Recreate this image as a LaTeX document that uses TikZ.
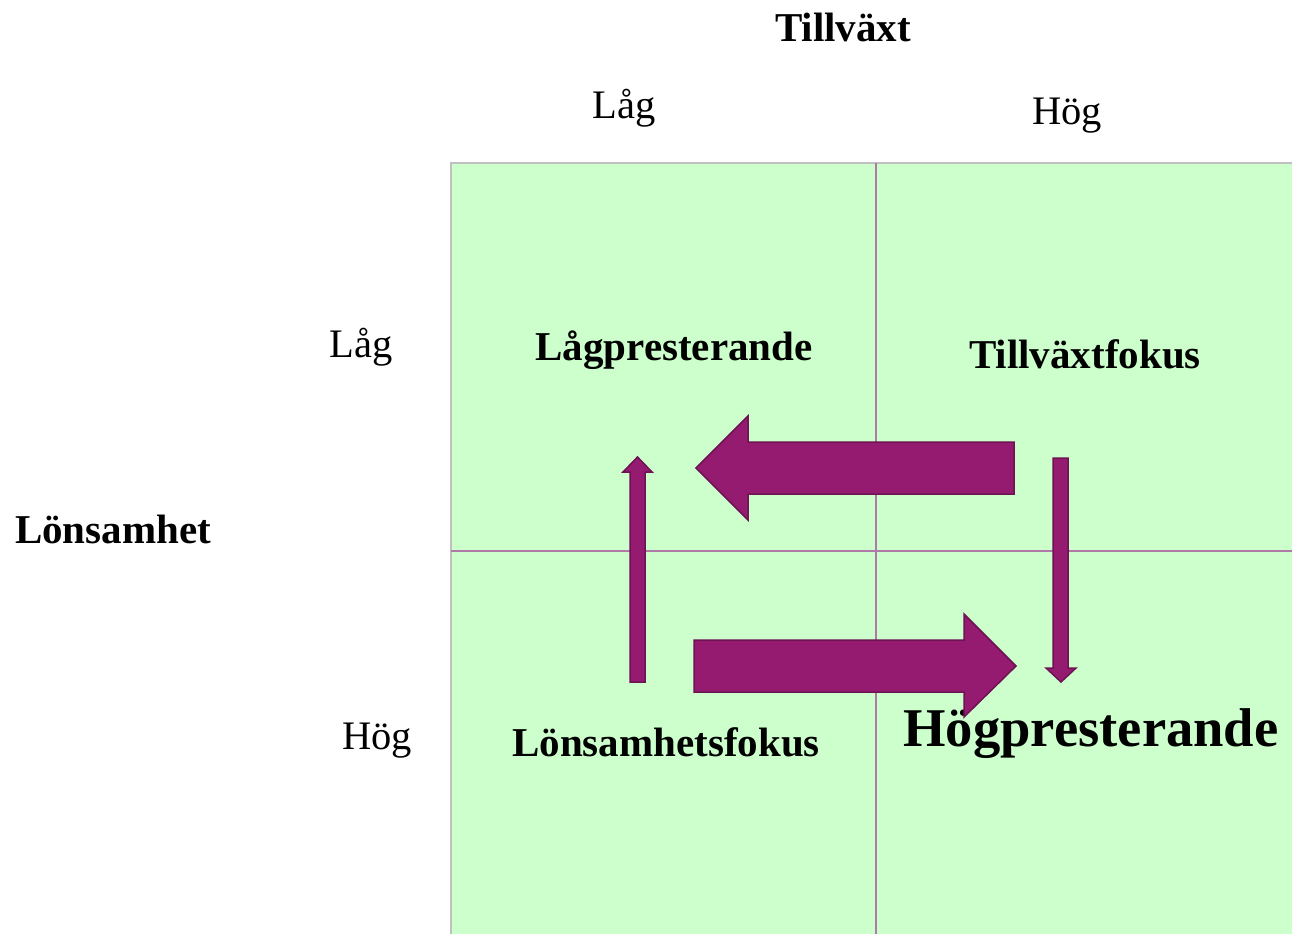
\documentclass[tikz,border=0pt]{standalone}
\usepackage{fontspec}
\setmainfont{Liberation Serif}
\usetikzlibrary{positioning}
\definecolor{cellgreen}{HTML}{CCFFCC}
\definecolor{arrowfill}{HTML}{951B70}
\definecolor{arrowline}{HTML}{6E1254}
\definecolor{divline}{HTML}{B07AA8}
\definecolor{frameline}{HTML}{C0C0C0}

\begin{document}
\begin{tikzpicture}[x=1pt,y=-1pt,
	axislabel/.style={font=\fontsize{41}{41}\selectfont\bfseries},
	levellabel/.style={font=\fontsize{40.5}{41}\selectfont},
	quadlabel/.style={font=\fontsize{41}{41}\selectfont\bfseries},
	blockarrow/.style={fill=arrowfill,draw=arrowline,line width=1.5pt,line join=miter}]
		\useasboundingbox (0,0) rectangle (1292,934);
		% grid
		\fill[cellgreen] (451,163) rectangle (1292,934);
		\draw[frameline,line width=2.5pt] (451,934) -- (451,163) -- (1292,163);
		\draw[divline,line width=1.5pt] (876,163) -- (876,934);
		\draw[divline,line width=1.5pt] (451,551) -- (1292,551);
		% axes
		\node[axislabel] (growth) at (843,27) {Tillväxt};
		\node[levellabel] (growthlow) at (624,108) {Låg};
		\node[levellabel] (growthhigh) at (1067,116) {Hög};
		\node[axislabel] (profit) at (113,529) {Lönsamhet};
		\node[levellabel] (profitlow) at (361,347) {Låg};
		\node[levellabel] (profithigh) at (377,741) {Hög};
		% quadrants
		\node[quadlabel] (lowperf) at (674,350) {Lågpresterande};
		\node[quadlabel] (growthfocus) at (1085,354) {Tillväxtfokus};
		\node[quadlabel] (profitfocus) at (666,742) {Lönsamhetsfokus};
		\node[font=\fontsize{54.6}{55}\selectfont\bfseries] (highperf) at (1091,734) {Högpresterande};
		% arrows
		\draw[blockarrow] (1014,442) -- (748,442) -- (748,416) -- (696,468) -- (748,520) -- (748,494) -- (1014,494) -- cycle;
		\draw[blockarrow] (694,640) -- (964,640) -- (964,614) -- (1016,666) -- (964,717) -- (964,692) -- (694,692) -- cycle;
		\draw[blockarrow] (630,682) -- (630,472) -- (623,472) -- (637.5,457) -- (652,472) -- (645,472) -- (645,682) -- cycle;
		\draw[blockarrow] (1053,458) -- (1068,458) -- (1068,668) -- (1076,668) -- (1061,682) -- (1046,668) -- (1053,668) -- cycle;
\end{tikzpicture}
\end{document}
